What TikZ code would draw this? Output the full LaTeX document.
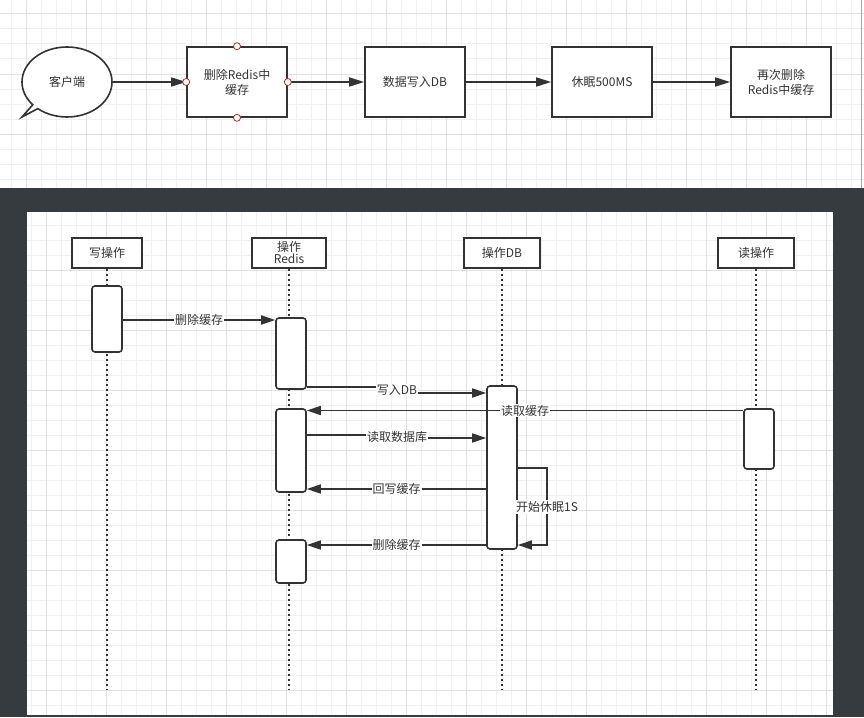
\documentclass[tikz,border=0pt]{standalone}
\usepackage{fontspec}
\setmainfont{Noto Sans CJK SC}
\usetikzlibrary{positioning,arrows.meta,shapes.callouts}
\definecolor{inkgray}{HTML}{333333}
\definecolor{slate}{HTML}{363B40}
\definecolor{gridfaint}{HTML}{F0F0F0}
\definecolor{gridbold}{HTML}{E2E2E2}
\definecolor{pinred}{HTML}{A8322D}

\begin{document}
\begin{tikzpicture}[x=1pt,y=-1pt,
  txt/.style={font=\fontsize{12}{15}\selectfont, text=inkgray},
  flowbox/.style={txt, draw=inkgray, line width=1.6pt, fill=white, minimum width=100pt, minimum height=70pt, align=center},
  flowarrow/.style={draw=inkgray, line width=1.6pt, -{Triangle[length=15pt,width=9pt]}},
  pin/.style={circle, draw=pinred, fill=white, line width=0.8pt, minimum size=7pt, inner sep=0pt},
  lifehead/.style={txt, draw=inkgray, line width=1.6pt, fill=white, minimum width=72pt, minimum height=30pt, align=center, inner sep=1pt},
  lifeline/.style={draw=inkgray, line width=1.8pt, dash pattern=on 2.5pt off 2.5pt},
  actbox/.style={draw=inkgray, line width=1.6pt, fill=white, rounded corners=3pt, minimum width=30pt, inner sep=0pt},
  msg/.style={draw=inkgray, line width=1.6pt, -{Triangle[length=14pt,width=9pt]}},
  msglabel/.style={txt, fill=white, inner sep=1pt}]
\useasboundingbox (0,0) rectangle (864,717);

% top canvas
\fill[white] (0,0) rectangle (864,188);
\foreach \gx in {11,26,...,856} \draw[gridfaint, line width=1pt] (\gx,0) -- (\gx,188);
\foreach \gy in {14,29,...,179} \draw[gridfaint, line width=1pt] (0,\gy) -- (864,\gy);
\foreach \gx in {26,86,...,806} \draw[gridbold, line width=1pt] (\gx,0) -- (\gx,188);
\foreach \gy in {14,74,134} \draw[gridbold, line width=1pt] (0,\gy) -- (864,\gy);
\draw[gray!70, line width=1pt] (861,0) -- (861,188);

% dark frame and lower canvas
\fill[slate] (0,188) rectangle (864,717);
\fill[white] (27,212) rectangle (833,715);
\foreach \gx in {31,46,...,826} \draw[gridfaint, line width=1pt] (\gx,212) -- (\gx,715);
\foreach \gy in {225,240,...,705} \draw[gridfaint, line width=1pt] (27,\gy) -- (833,\gy);
\foreach \gx in {46,106,...,826} \draw[gridbold, line width=1pt] (\gx,212) -- (\gx,715);
\foreach \gy in {270,330,...,690} \draw[gridbold, line width=1pt] (27,\gy) -- (833,\gy);

% flow
\node[txt, ellipse callout, draw=inkgray, line width=1.6pt, fill=white, minimum width=90pt, minimum height=70pt,
  callout absolute pointer={(22,117)}, callout pointer arc=9] (client) at (67,82) {客户端};
\node[flowbox] (del1) at (237,82) {删除Redis中\\缓存};
\node[flowbox] (dbw) at (415,82) {数据写入DB};
\node[flowbox] (nap) at (602,82) {休眠500MS};
\node[flowbox] (del2) at (781,82) {再次删除\\Redis中缓存};
\draw[flowarrow] (client.east) -- (del1.west);
\draw[flowarrow] (del1.east) -- (dbw.west);
\draw[flowarrow] (dbw.east) -- (nap.west);
\draw[flowarrow] (nap.east) -- (del2.west);
\foreach \a in {north,south,east,west}
  \node[pin] (pin-\a) at (del1.\a) {};

% sequence
\node[lifehead, minimum width=70pt] (wop) at (107,253) {写操作};
\node[lifehead, minimum width=74pt] (redis) at (289,253) {操作\\[-3pt]Redis};
\node[lifehead, minimum width=76pt] (dbop) at (502,253) {操作DB};
\node[lifehead, minimum width=76pt] (rop) at (756,253) {读操作};
\foreach \h in {wop,redis,dbop,rop}
  \draw[lifeline] (\h.south) -- (\h.south |- 0,690);

\node[actbox, minimum height=66pt] (wact) at (107,319) {};
\node[actbox, minimum height=71pt] (ract1) at (291,353.5) {};
\node[actbox, minimum height=163pt] (dbact) at (502,467.5) {};
\node[actbox, minimum height=83pt] (ract2) at (291,450.5) {};
\node[actbox, minimum height=43pt] (ract3) at (291,561.5) {};
\node[actbox, minimum height=60pt] (rdact) at (759,439) {};

\draw[msg] (wact.east |- 0,320) -- node[msglabel] (m1) {删除缓存} (ract1.west |- 0,320);
\draw[msg] (ract1.east |- 0,387) -| (397,390) |- (dbact.west |- 0,393);
\node[msglabel] (m2) at (397,390) {写入DB};
\draw[msg] (rdact.west |- 0,410.5) -- node[msglabel] (m3) {读取缓存} (ract2.east |- 0,410.5);
\draw[msg] (ract2.east |- 0,435) -| (397,436.5) |- (dbact.west |- 0,438);
\node[msglabel] (m4) at (397,436.5) {读取数据库};
\draw[msg] (dbact.west |- 0,489) -- node[msglabel] (m5) {回写缓存} (ract2.east |- 0,489);
\draw[msg] (dbact.east |- 0,468) -- (547,468) -- (547,545) -- (dbact.east |- 0,545);
\node[msglabel] (m6) at (547,507) {开始休眠1S};
\draw[msg] (dbact.west |- 0,545) -- node[msglabel] (m7) {删除缓存} (ract3.east |- 0,545);
\end{tikzpicture}
\end{document}
